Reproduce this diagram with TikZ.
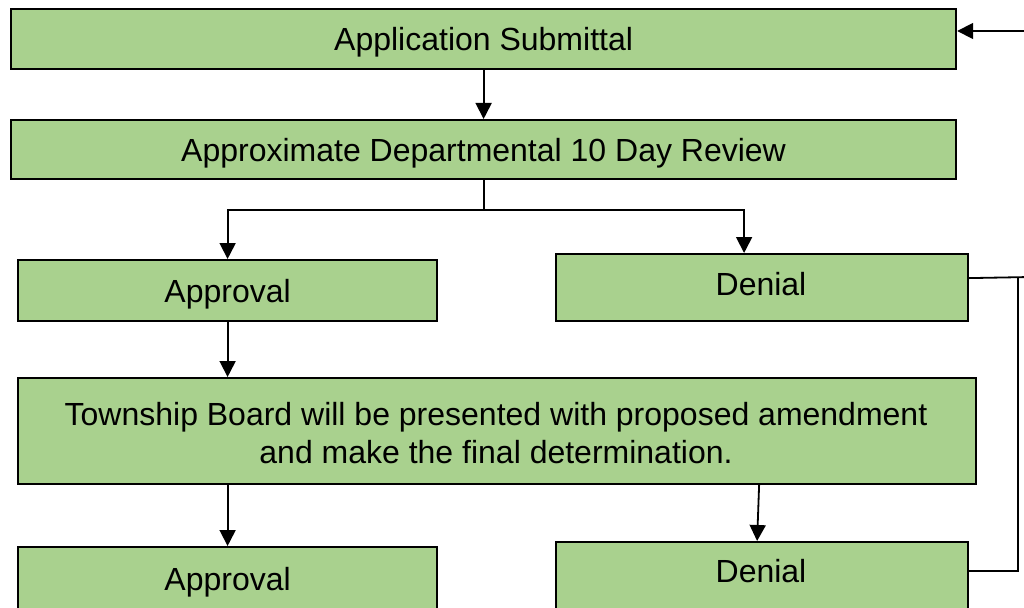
\documentclass[tikz,border=0pt]{standalone}
\usepackage{fontspec}
\setmainfont{Liberation Sans}
\usetikzlibrary{arrows.meta}
\definecolor{boxgreen}{HTML}{A9D18E}
\begin{document}
\begin{tikzpicture}[x=1pt,y=-1pt,
 lbl/.style={font=\fontsize{32}{38}\selectfont, align=center},
 box/.style={draw=black, fill=boxgreen, line width=2.2pt, anchor=north west, inner sep=0pt, lbl},
 conn/.style={line width=1.8pt, -{Triangle[length=16pt,width=16pt]}},
 plain/.style={line width=1.8pt}]
\useasboundingbox (0,0) rectangle (1024,607);
\node[box, minimum width=945, minimum height=60, text depth=0pt] (b1) at (10,8) {Application Submittal};
\node[box, minimum width=945, minimum height=59, text depth=0pt] (b2) at (10,119) {Approximate Departmental 10 Day Review};
\node[box, minimum width=419, minimum height=61, text depth=0pt] (a1) at (17,259) {Approval};
\node[box, minimum width=412, minimum height=67] (d1) at (555,253) {};
\node[lbl] (d1t) at (761,284) {Denial};
\node[box, minimum width=958, minimum height=106] (tw) at (17,377) {};
\node[lbl] (twt) at (496,433) {Township Board will be presented with proposed amendment\\ and make the final determination.};
\node[box, minimum width=419, minimum height=64, text depth=0pt] (a2) at (17,546) {Approval};
\node[box, minimum width=412, minimum height=70] (d2) at (555,541) {};
\node[lbl] (d2t) at (761,571) {Denial};
% main flow
\draw[conn] (b1.south) -- (b2.north);
\draw[plain] (b2.south) -- ++(0,30) coordinate (split);
\draw[conn] (split) -| (a1.north);
\draw[conn] (split) -| ([xshift=-18pt]d1.north);
\draw[conn] (a1.south) -- (a1.south |- tw.north);
\draw[conn] (a2.north |- tw.south) -- (a2.north);
\draw[conn] ([xshift=262pt]tw.south) -- ([xshift=-5pt]d2.north);
% feedback loop
\coordinate (fbv) at (1018,277);
\coordinate (edge) at (1030,277);
\coordinate (fbtop) at (1030,31);
\draw[plain] ([yshift=9.5pt]d1.east) -- (edge);
\draw[plain] (fbv) |- ([yshift=6pt]d2.east);
\draw[conn] (fbtop) -- (b1.east |- fbtop);
\end{tikzpicture}
\end{document}
